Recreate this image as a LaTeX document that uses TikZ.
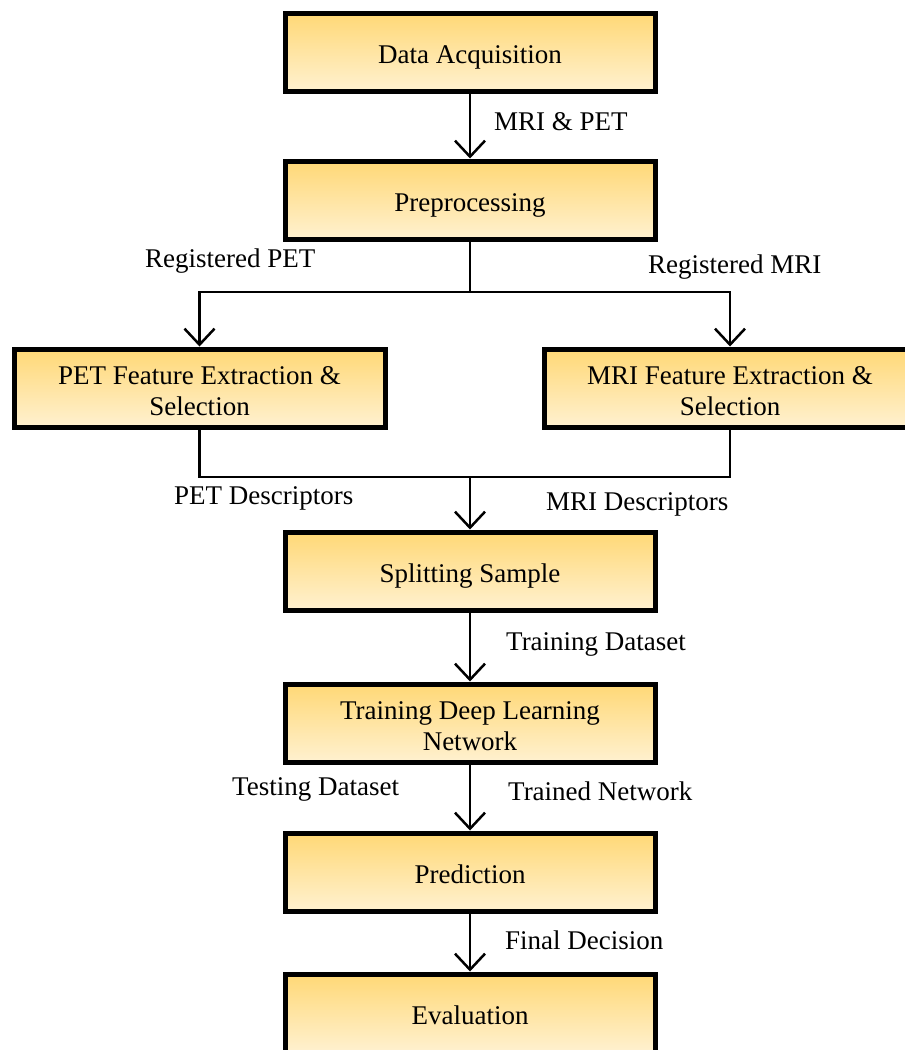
\documentclass[tikz,border=0pt]{standalone}
\usepackage{fontspec}
\setmainfont{Liberation Serif}
\usetikzlibrary{arrows.meta}
\newcommand{\topstrut}{\rule{0pt}{25pt}}
\begin{document}
\begin{tikzpicture}[x=1pt,y=-1pt,
  box/.style={draw=black, line width=5pt, top color=boxtop, bottom color=boxbot,
    minimum width=370pt, minimum height=78pt, align=center, inner sep=0pt,
    font=\fontsize{27}{31}\selectfont},
  onebox/.style={box, text height=22pt, text depth=0pt},
  lbl/.style={anchor=west, inner sep=0pt, font=\fontsize{27}{31}\selectfont},
  conn/.style={line width=2.5pt},
  arr/.style={conn, -{Straight Barb[length=16pt,width=30pt,line width=2.5pt]}}]
\definecolor{boxtop}{RGB}{255,216,118}
\definecolor{boxbot}{RGB}{255,241,208}
\useasboundingbox (0,0) rectangle (905,1050);
\node[onebox] (acq) at (470,52) {Data Acquisition};
\node[onebox] (pre) at (470,200) {Preprocessing};
\node[box, minimum width=371pt] (pet) at (199.5,388) {\topstrut PET Feature Extraction \&\\Selection};
\node[box, minimum width=371pt] (mri) at (730,388) {\topstrut MRI Feature Extraction \&\\Selection};
\node[onebox] (split) at (470,571) {Splitting Sample};
\node[box] (train) at (470,723) {\topstrut Training Deep Learning\\Network};
\node[onebox] (pred) at (470,872) {Prediction};
\node[onebox] (eval) at (470,1013) {Evaluation};
\coordinate (j1) at (470,292);
\coordinate (j2) at (470,477);
\draw[arr] (acq) -- (pre);
\draw[conn] (pre.south) -- (j1);
\draw[arr] (j1) -| (pet.north);
\draw[arr] (j1) -| (mri.north);
\draw[conn] (pet.south) |- (j2) -| (mri.south);
\draw[arr] (j2) -- (split.north);
\draw[arr] (split) -- (train);
\draw[arr] (train) -- (pred);
\draw[arr] (pred) -- (eval);
\node[lbl] (l1) at (494,122) {MRI \& PET};
\node[lbl] (l2) at (145,261) {Registered PET};
\node[lbl] (l3) at (648,267) {Registered MRI};
\node[lbl] (l4) at (174,498) {PET Descriptors};
\node[lbl] (l5) at (546,504) {MRI Descriptors};
\node[lbl] (l6) at (506,644) {Training Dataset};
\node[lbl] (l7) at (232,789) {Testing Dataset};
\node[lbl] (l8) at (508,791) {Trained Network};
\node[lbl] (l9) at (505,940) {Final Decision};
\end{tikzpicture}
\end{document}
